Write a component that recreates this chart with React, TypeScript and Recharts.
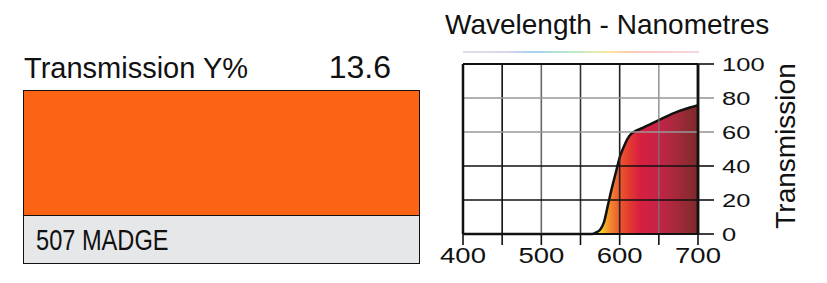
import React from "react";
import { ComposedChart, Area, XAxis, YAxis, ReferenceLine } from "recharts";

const wavelengths = [400, 450, 500, 550, 560, 565, 570, 575, 580, 585, 590, 595, 600, 605, 610, 615, 620, 630, 640, 650, 660, 670, 680, 690, 700];
const transmission = [0, 0, 0, 0, 0, 0, 1, 2.5, 7, 17, 27, 36, 45, 51, 56, 59, 60.5, 62.5, 64.8, 67, 69.2, 71.3, 73, 74.4, 75.8];

const xTicks = [400, 450, 500, 550, 600, 650, 700];
const xLabelTicks = [400, 500, 600, 700];
const yTicks = [0, 20, 40, 60, 80, 100];

const vGridLines = [450, 500, 550, 600, 650];
const vGridColors = ["#111", "#666", "#333", "#222", "#777"];
const hGridLines = [20, 40, 60, 80];
const hGridColors = ["#111", "#111", "#999", "#999"];

const transmissionY = "13.6";
const filterName = "507 MADGE";

const data = wavelengths.map((w, i) => ({ w, t: transmission[i] }));

const FONT = "'Liberation Sans', Arial, Helvetica, sans-serif";
const MARGIN = { top: 64, right: 69, bottom: 19, left: 463 };

const XTick = (props: any) => {
  const { x, y, payload } = props;
  if (!xLabelTicks.includes(payload.value)) return null;
  return (
    <text
      transform={`translate(${x},${y + 16}) scale(1.25,1)`}
      x={0}
      y={0}
      textAnchor="middle"
      fontSize={22}
      fontFamily={FONT}
      fill="#111"
    >
      {payload.value}
    </text>
  );
};

const YTick = (props: any) => {
  const { x, y, payload } = props;
  const idx = hGridLines.indexOf(payload.value);
  const color = idx >= 0 ? hGridColors[idx] : "#111";
  return (
    <g>
      <line x1={x - 18} y1={y} x2={x - 2} y2={y} stroke={color} strokeWidth={1.6} />
      <text
        transform={`translate(${x + 6},${y}) scale(1.38,1)`}
        x={0}
        y={0}
        dy="0.36em"
        textAnchor="start"
        fontSize={18.5}
        fontFamily={FONT}
        fill="#111"
      >
        {payload.value}
      </text>
    </g>
  );
};

export default function App() {
  return (
    <div style={{ position: "absolute", left: 0, top: 0, width: 827, height: 283, background: "#fff", fontFamily: FONT }}>
      {/* Left swatch panel */}
      <div style={{ position: "absolute", left: 24, top: 52, fontSize: 29, color: "#111", lineHeight: "32px", whiteSpace: "nowrap" }}>
        Transmission Y%
      </div>
      <div style={{ position: "absolute", right: 827 - 391, top: 49, fontSize: 32, color: "#111", lineHeight: "36px" }}>
        {transmissionY}
      </div>
      <div
        style={{
          position: "absolute",
          left: 23,
          top: 90,
          width: 397,
          height: 174,
          border: "1.5px solid #111",
          boxSizing: "border-box",
          background: "#e6e7e9",
        }}
      >
        <div style={{ height: 124, background: "#fb6414", borderBottom: "1.5px solid #111" }} />
        <div
          style={{
            position: "absolute",
            left: 12,
            top: 133,
            fontSize: 29.5,
            lineHeight: "32px",
            transform: "scaleX(0.8)",
            transformOrigin: "0 0",
            whiteSpace: "nowrap",
            color: "#111",
          }}
        >
          {filterName}
        </div>
      </div>

      {/* Chart title */}
      <div style={{ position: "absolute", left: 445, top: 9, fontSize: 28, lineHeight: "32px", color: "#111", whiteSpace: "nowrap" }}>
        Wavelength - Nanometres
      </div>
      {/* Spectrum strip */}
      <div
        style={{
          position: "absolute",
          left: 463,
          top: 51,
          width: 236,
          height: 2,
          opacity: 0.55,
          background:
            "linear-gradient(to right, #c9c2d6 0%, #b9b8d4 18%, #5aa8e0 30%, #6cc6c0 38%, #8fd49a 48%, #d8e46a 58%, #f5d04a 62%, #f4a070 70%, #f29aa0 80%, #f0b8c4 100%)",
        }}
      />
      {/* Right axis title */}
      <div
        style={{
          position: "absolute",
          left: 786,
          top: 146,
          transform: "translate(-50%, -50%) rotate(-90deg)",
          fontSize: 28,
          lineHeight: "28px",
          color: "#111",
          whiteSpace: "nowrap",
        }}
      >
        Transmission
      </div>

      <div style={{ position: "absolute", left: 0, top: 0 }}>
        <ComposedChart width={827} height={283} data={data} margin={MARGIN}>
          <defs>
            <linearGradient id="specFill" x1="0" y1="0" x2="1" y2="0">
              <stop offset="0.55" stopColor="#fff23a" />
              <stop offset="0.585" stopColor="#f7d828" />
              <stop offset="0.62" stopColor="#f3922c" />
              <stop offset="0.665" stopColor="#ec5a30" />
              <stop offset="0.7" stopColor="#e6402f" />
              <stop offset="0.75" stopColor="#d8203f" />
              <stop offset="0.83" stopColor="#c52347" />
              <stop offset="0.9" stopColor="#a9293d" />
              <stop offset="1" stopColor="#7b2a2b" />
            </linearGradient>
          </defs>
          <XAxis
            dataKey="w"
            type="number"
            domain={[400, 700]}
            ticks={xTicks}
            interval={0}
            tickSize={11}
            axisLine={{ stroke: "#111", strokeWidth: 2 }}
            tickLine={{ stroke: "#111", strokeWidth: 1.6 }}
            tick={<XTick />}
          />
          <YAxis
            orientation="right"
            type="number"
            domain={[0, 100]}
            ticks={yTicks}
            interval={0}
            tickSize={16}
            axisLine={{ stroke: "#111", strokeWidth: 2.5 }}
            tickLine={false}
            tick={<YTick />}
          />
          <Area
            type="monotone"
            dataKey="t"
            stroke="#111"
            strokeWidth={2.5}
            fill="url(#specFill)"
            fillOpacity={1}
            isAnimationActive={false}
            dot={false}
            activeDot={false}
          />
        </ComposedChart>
      </div>

      {/* Grid overlay drawn on top of the filled area */}
      <div style={{ position: "absolute", left: 0, top: 0, pointerEvents: "none" }}>
        <ComposedChart width={827} height={283} data={data} margin={MARGIN}>
          <XAxis dataKey="w" type="number" domain={[400, 700]} ticks={xTicks} tick={false} axisLine={false} tickLine={false} />
          <YAxis orientation="right" type="number" domain={[0, 100]} ticks={yTicks} tick={false} axisLine={false} tickLine={false} width={60} />
          <Area
            type="monotone"
            dataKey="t"
            stroke="none"
            fill="none"
            isAnimationActive={false}
            dot={false}
            activeDot={false}
          />
          {vGridLines.map((v, i) => (
            <ReferenceLine key={"v" + v} x={v} stroke={vGridColors[i]} strokeWidth={1.6} strokeOpacity={i === 4 ? 0.75 : 1} />
          ))}
          {hGridLines.map((v, i) => (
            <ReferenceLine key={"h" + v} y={v} stroke={hGridColors[i]} strokeWidth={1.6} />
          ))}
          <ReferenceLine x={400} stroke="#111" strokeWidth={2.5} />
          <ReferenceLine x={700} stroke="#111" strokeWidth={2.5} />
          <ReferenceLine y={100} stroke="#111" strokeWidth={2} />
          <ReferenceLine y={0} stroke="#111" strokeWidth={2} />
        </ComposedChart>
      </div>
    </div>
  );
}
